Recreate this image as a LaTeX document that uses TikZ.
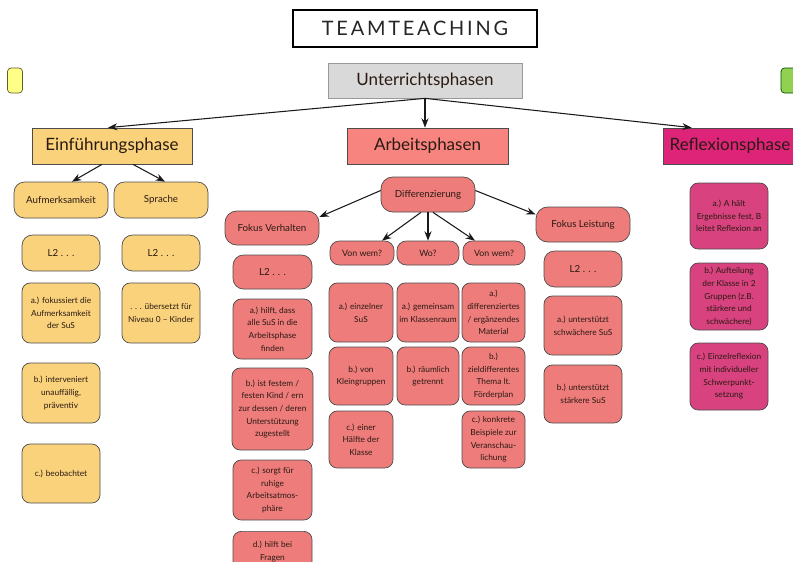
\documentclass[tikz,border=0pt]{standalone}
\usepackage{fontspec}
\setmainfont{Lato}
\usetikzlibrary{calc,arrows.meta}
\definecolor{orng}{HTML}{FAD27C}
\definecolor{salmon}{HTML}{EE7C7B}
\definecolor{redhead}{HTML}{F7847F}
\definecolor{pinkhead}{HTML}{DE2479}
\definecolor{pinkbox}{HTML}{D8427F}
\definecolor{greybox}{HTML}{D9D9D9}
\definecolor{lightgrn}{HTML}{92D050}
\definecolor{lightylw}{HTML}{FFFF88}
\definecolor{ink}{HTML}{2A1A12}
\begin{document}
\begin{tikzpicture}[x=0.03cm,y=-0.03cm,>={Stealth[length=8pt,width=6pt]},
  bx/.style 2 args={draw=black!70,line width=0.6pt,text=ink,align=center,inner sep=1pt,
    minimum width=#1*0.03cm,minimum height=#2*0.03cm},
  head/.style={font=\fontsize{14.5}{16}\selectfont},
  lbl/.style={rounded corners=9pt,font=\fontsize{8.3}{10}\selectfont},
  card/.style={rounded corners=7pt,font=\fontsize{7.1}{10.8}\selectfont},
  arr/.style={->,line width=0.9pt,black!90}]
  \useasboundingbox (0,0) rectangle (793,561);
  \clip (0,0) rectangle (793,561);

  \node[bx={244}{37},draw=black,line width=1.4pt,text=black!85,
    font=\fontsize{17}{20}\selectfont\addfontfeature{LetterSpace=14}] (title) at (415,28.5) {TEAMTEACHING};
  \node[bx={15}{25},draw=olive!60!black,fill=lightylw,rounded corners=3pt] (ylw) at (15,80.5) {};
  \node[bx={16}{25},draw=green!30!black,fill=lightgrn,rounded corners=3pt] (grn) at (789,80.5) {};
  \node[bx={194}{35},head,draw=black!40,fill=greybox] (ut) at (425,80.5) {Unterrichtsphasen};

  % Einfuehrungsphase
  \node[bx={160}{36},head,fill=orng] (einf) at (112,146) {Einführungsphase};
  \node[bx={94}{36},lbl,fill=orng] (aufm) at (61,200) {Aufmerksamkeit};
  \node[bx={94}{36},lbl,fill=orng] (spr) at (161,200) {Sprache};
  \node[bx={78}{36},lbl,fill=orng] (ltwoa) at (61,253) {L2 . . .};
  \node[bx={78}{36},lbl,fill=orng] (ltwob) at (161,253) {L2 . . .};
  \node[bx={78}{60},card,fill=orng] (aufma) at (61,313) {a.) fokussiert die\\Aufmerksamkeit\\der SuS};
  \node[bx={78}{60},card,fill=orng] (spra) at (161,313) {. . . übersetzt für\\Niveau 0 -- Kinder};
  \node[bx={78}{60},card,fill=orng] (aufmb) at (61,393) {b.) interveniert\\unauffällig,\\präventiv};
  \node[bx={78}{59},card,fill=orng] (aufmc) at (61,473.5) {c.) beobachtet};

  % Arbeitsphasen
  \node[bx={161}{36},head,fill=redhead] (arb) at (427.5,146) {Arbeitsphasen};
  \node[bx={94}{35},lbl,rounded corners=10pt,fill=salmon] (diff) at (428,194.5) {Differenzierung};
  \node[bx={94}{34},lbl,rounded corners=10pt,fill=salmon] (fv) at (272,228) {Fokus Verhalten};
  \node[bx={79}{34},lbl,fill=salmon] (fvl) at (272.5,272) {L2 . . .};
  \node[bx={79}{60},card,fill=salmon] (fva) at (272.5,329) {a.) hilft, dass\\alle SuS in die\\Arbeitsphase\\finden};
  \node[bx={81}{82},card,fill=salmon] (fvb) at (272.5,409) {b.) ist festem /\\festen Kind / ern\\zur dessen / deren\\Unterstützung\\zugestellt};
  \node[bx={79}{60},card,fill=salmon] (fvc) at (272.5,490) {c.) sorgt für\\ruhige\\Arbeitsatmos-\\phäre};
  \node[bx={79}{40},card,fill=salmon,anchor=north] (fvd) at (272.5,531) {d.) hilft bei\\Fragen};

  \node[bx={64}{24},lbl,rounded corners=8pt,font=\fontsize{7.5}{9}\selectfont,fill=salmon] (vwa) at (362,253) {Von wem?};
  \node[bx={62}{24},lbl,rounded corners=8pt,font=\fontsize{7.5}{9}\selectfont,fill=salmon] (wo) at (428,253) {Wo?};
  \node[bx={62}{24},lbl,rounded corners=8pt,font=\fontsize{7.5}{9}\selectfont,fill=salmon] (vwb) at (494,253) {Von wem?};
  \node[bx={64}{59},card,fill=salmon] (vwaa) at (361,312.5) {a.) einzelner\\SuS};
  \node[bx={64}{58},card,fill=salmon] (vwab) at (361,376) {b.) von\\Kleingruppen};
  \node[bx={64}{57},card,fill=salmon] (vwac) at (361,439.5) {c.) einer\\Hälfte der\\Klasse};
  \node[bx={62}{59},card,fill=salmon] (woa) at (428,312.5) {a.) gemeinsam\\im Klassenraum};
  \node[bx={62}{58},card,fill=salmon] (wob) at (428,376) {b.) räumlich\\getrennt};
  \node[bx={63}{59},card,fill=salmon] (vwba) at (493.5,312.5) {a.)\\differenziertes\\/ ergänzendes\\Material};
  \node[bx={63}{58},card,fill=salmon] (vwbb) at (493.5,376) {b.)\\zieldifferentes\\Thema lt.\\Förderplan};
  \node[bx={63}{57},card,fill=salmon] (vwbc) at (493.5,439.5) {c.) konkrete\\Beispiele zur\\Veranschau-\\lichung};

  \node[bx={94}{35},lbl,rounded corners=10pt,fill=salmon] (fl) at (583,224.5) {Fokus Leistung};
  \node[bx={78}{36},lbl,fill=salmon] (fll) at (583,269) {L2 . . .};
  \node[bx={78}{59},card,fill=salmon] (fla) at (583,325.5) {a.) unterstützt\\schwächere SuS};
  \node[bx={78}{58},card,fill=salmon] (flb) at (583,394) {b.) unterstützt\\stärkere SuS};

  % Reflexionsphase
  \node[bx={134}{36},head,fill=pinkhead] (refl) at (730,146) {Reflexionsphase};
  \node[bx={78}{66},card,fill=pinkbox] (rfa) at (729,216) {a.) A hält\\Ergebnisse fest, B\\leitet Reflexion an};
  \node[bx={78}{67},card,fill=pinkbox] (rfb) at (729,296.5) {b.) Aufteilung\\der Klasse in 2\\Gruppen (z.B.\\stärkere und\\schwächere)};
  \node[bx={78}{67},card,fill=pinkbox] (rfc) at (729,376.5) {c.) Einzelreflexion\\mit individueller\\Schwerpunkt-\\setzung};

  \draw[arr] (ut.south) -- ($(einf.north)+(-4,0)$);
  \draw[arr] (ut.south) -- (ut.south |- arb.north);
  \draw[arr] (ut.south) -- ($(refl.north west)+(29,0)$);
  \draw[arr] ($(einf.south)+(-10,0)$) -- ($(aufm.north)+(11,0)$);
  \draw[arr] ($(einf.south)+(21,0)$) -- ($(spr.north)+(4,0)$);
  \draw[arr] ($(diff.west)+(0,-4)$) -- ($(fv.east)+(0,-11)$);
  \draw[arr] ($(diff.east)+(0,-4)$) -- ($(fl.west)+(0,-10)$);
  \foreach \s/\e/\d in {-7/vwa/20,0/wo/0,5/vwb/-19}
    \draw[arr] ($(diff.south)+(\s,0)$) -- ($(\e.north)+(\d,0)$);

\end{tikzpicture}
\end{document}
